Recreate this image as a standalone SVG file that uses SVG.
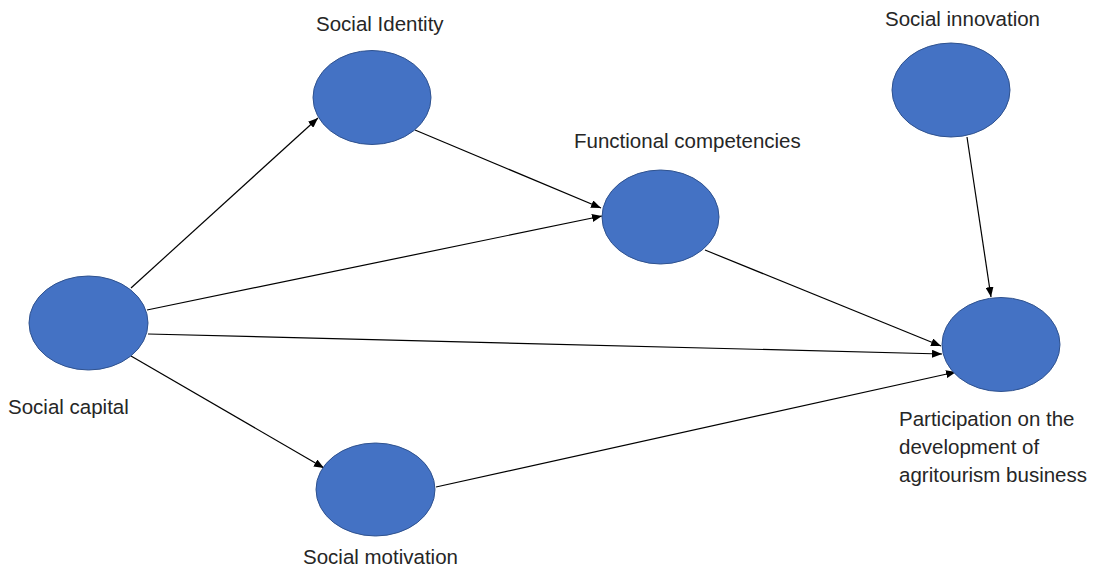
<svg xmlns="http://www.w3.org/2000/svg" width="1098" height="569" viewBox="0 0 1098 569">
  <style>
    .node ellipse { fill: #4472C4; stroke: #2F528F; stroke-width: 1; }
    .label { font-family: "Liberation Sans", Arial, sans-serif; font-size: 20.5px; fill: #262626; }
    .edge { stroke: #000; stroke-width: 1.2; fill: none; marker-end: url(#arrow); }
  </style>
  <defs>
    <marker id="arrow" markerUnits="userSpaceOnUse" markerWidth="10" markerHeight="8" viewBox="0 0 10 8" refX="10" refY="4" orient="auto">
      <path d="M0,0 L10,4 L0,8 Z" fill="#000"/>
    </marker>
  </defs>

  <rect width="1098" height="569" fill="#fff"/>

  <!-- connectors -->
  <g id="edges">
    <line class="edge" x1="131" y1="288" x2="318" y2="118"/>
    <line class="edge" x1="415" y1="130" x2="601" y2="208"/>
    <line class="edge" x1="147" y1="310" x2="602" y2="216"/>
    <line class="edge" x1="148" y1="334" x2="942" y2="354"/>
    <line class="edge" x1="131" y1="356" x2="324" y2="468"/>
    <line class="edge" x1="705" y1="250" x2="941" y2="346"/>
    <line class="edge" x1="436" y1="487" x2="956" y2="372"/>
    <line class="edge" x1="967" y1="137" x2="991" y2="297"/>
  </g>

  <!-- nodes -->
  <g id="social-identity" class="node">
    <ellipse cx="372" cy="97.5" rx="59" ry="47"/>
    <text class="label" x="316" y="31">Social Identity</text>
  </g>
  <g id="social-capital" class="node">
    <ellipse cx="88.5" cy="323" rx="59.5" ry="47"/>
    <text class="label" x="8" y="414">Social capital</text>
  </g>
  <g id="functional-competencies" class="node">
    <ellipse cx="660.5" cy="217" rx="58.5" ry="47"/>
    <text class="label" x="574" y="148">Functional competencies</text>
  </g>
  <g id="social-motivation" class="node">
    <ellipse cx="375.5" cy="489.5" rx="59.5" ry="46.5"/>
    <text class="label" x="303" y="564">Social motivation</text>
  </g>
  <g id="social-innovation" class="node">
    <ellipse cx="951" cy="90" rx="59" ry="47"/>
    <text class="label" x="885" y="26">Social innovation</text>
  </g>
  <g id="participation" class="node">
    <ellipse cx="1001" cy="344.5" rx="59" ry="47"/>
    <text class="label" x="899" y="426">Participation on the</text>
    <text class="label" x="899" y="454">development of</text>
    <text class="label" x="899" y="482">agritourism business</text>
  </g>
</svg>
